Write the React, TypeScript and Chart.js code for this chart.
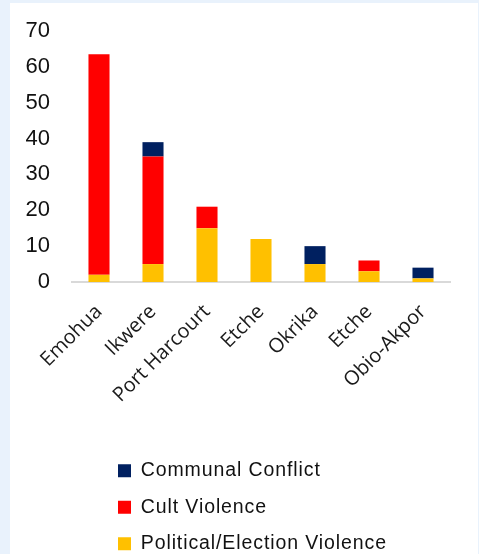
import { useEffect, useRef } from 'react';
import { Chart, registerables } from 'chart.js';

Chart.register(...registerables);

// Incidents by LGA, stacked by type of violence
const DISTRICTS = ['Emohua', 'Ikwere', 'Port Harcourt', 'Etche', 'Okrika', 'Etche', 'Obio-Akpor'];
const POLITICAL = [2, 5, 15, 12, 5, 3, 1];
const CULT = [61.5, 30, 6, 0, 0, 3, 0];
const COMMUNAL = [0, 4, 0, 0, 5, 0, 3];

const Y_MIN = 0;
const Y_MAX = 70;
const Y_STEP = 10;

const SERIES_LABELS = ['Political/Election Violence', 'Cult Violence', 'Communal Conflict'];
const SERIES_COLORS = ['#FFC000', '#FF0000', '#002060'];

// Lays the legend out as a single left-aligned column under the axis labels.
const legendColumn = {
  id: 'legendColumn',
  afterLayout(chart: any, _args: any, opts: any) {
    const lg = chart.legend;
    if (!lg) return;
    const pad = lg.options.labels.padding;
    lg.left = opts.x - pad;
    lg.right = lg.left + opts.width;
    lg.top = opts.y - pad;
    lg.bottom = chart.height;
    lg.width = lg.right - lg.left;
    lg.height = lg.bottom - lg.top;
    if (!lg.__spaced) {
      const baseDraw = lg.draw;
      lg.draw = function (area: any) {
        const ctx = this.ctx;
        const prev = ctx.letterSpacing;
        ctx.letterSpacing = opts.letterSpacing;
        baseDraw.call(this, area);
        ctx.letterSpacing = prev;
      };
      lg.__spaced = true;
    }
  },
};

export default function App() {
  const canvasRef = useRef<HTMLCanvasElement | null>(null);

  useEffect(() => {
    const canvas = canvasRef.current;
    if (!canvas) return;
    const values = [POLITICAL, CULT, COMMUNAL];
    const chart = new Chart(canvas, {
      type: 'bar',
      data: {
        labels: DISTRICTS,
        datasets: values.map((data, i) => ({
          label: SERIES_LABELS[i],
          data,
          backgroundColor: SERIES_COLORS[i],
          borderWidth: 0,
          barPercentage: 0.39,
          categoryPercentage: 1,
        })),
      },
      options: {
        responsive: false,
        animation: false,
        devicePixelRatio: 1,
        layout: { padding: { top: 28, right: 28, bottom: 0, left: 0 } },
        scales: {
          x: {
            stacked: true,
            grid: { display: false, drawTicks: false },
            border: { display: true, color: '#d9d9d9', width: 2 },
            ticks: {
              autoSkip: false,
              minRotation: 45,
              maxRotation: 45,
              padding: 18,
              color: '#1a1a1a',
              font: { family: 'Open Sans', size: 20 },
            },
            afterFit: (s: any) => {
              s.height = 189;
              s.paddingLeft = 0;
              s.paddingRight = 0;
            },
          },
          y: {
            stacked: true,
            min: Y_MIN,
            max: Y_MAX,
            grid: { display: false, drawTicks: false },
            border: { display: false },
            ticks: {
              stepSize: Y_STEP,
              padding: 22,
              color: '#111111',
              font: { family: 'Liberation Sans', size: 22 },
            },
            afterFit: (s: any) => {
              s.width = 62;
              s.paddingTop = 0;
              s.paddingBottom = 0;
            },
          },
        },
        plugins: {
          tooltip: { enabled: false },
          legend: {
            position: 'bottom',
            align: 'start',
            reverse: true,
            labels: {
              boxWidth: 13,
              boxHeight: 13,
              padding: 17,
              color: '#111111',
              font: { family: 'Liberation Sans', size: 19.5 },
            },
          },
          legendColumn: { x: 108, y: 458, width: 290, letterSpacing: '0.9px' },
        } as any,
      },
      plugins: [legendColumn],
    });
    return () => chart.destroy();
  }, []);

  return (
    <div style={{ position: 'fixed', inset: 0, background: '#e9f2fc' }}>
      <div
        style={{
          position: 'absolute',
          left: 10,
          top: 3,
          width: 468,
          height: 551,
          background: '#ffffff',
        }}
      >
        <canvas ref={canvasRef} width={468} height={551} style={{ display: 'block' }} />
      </div>
    </div>
  );
}
